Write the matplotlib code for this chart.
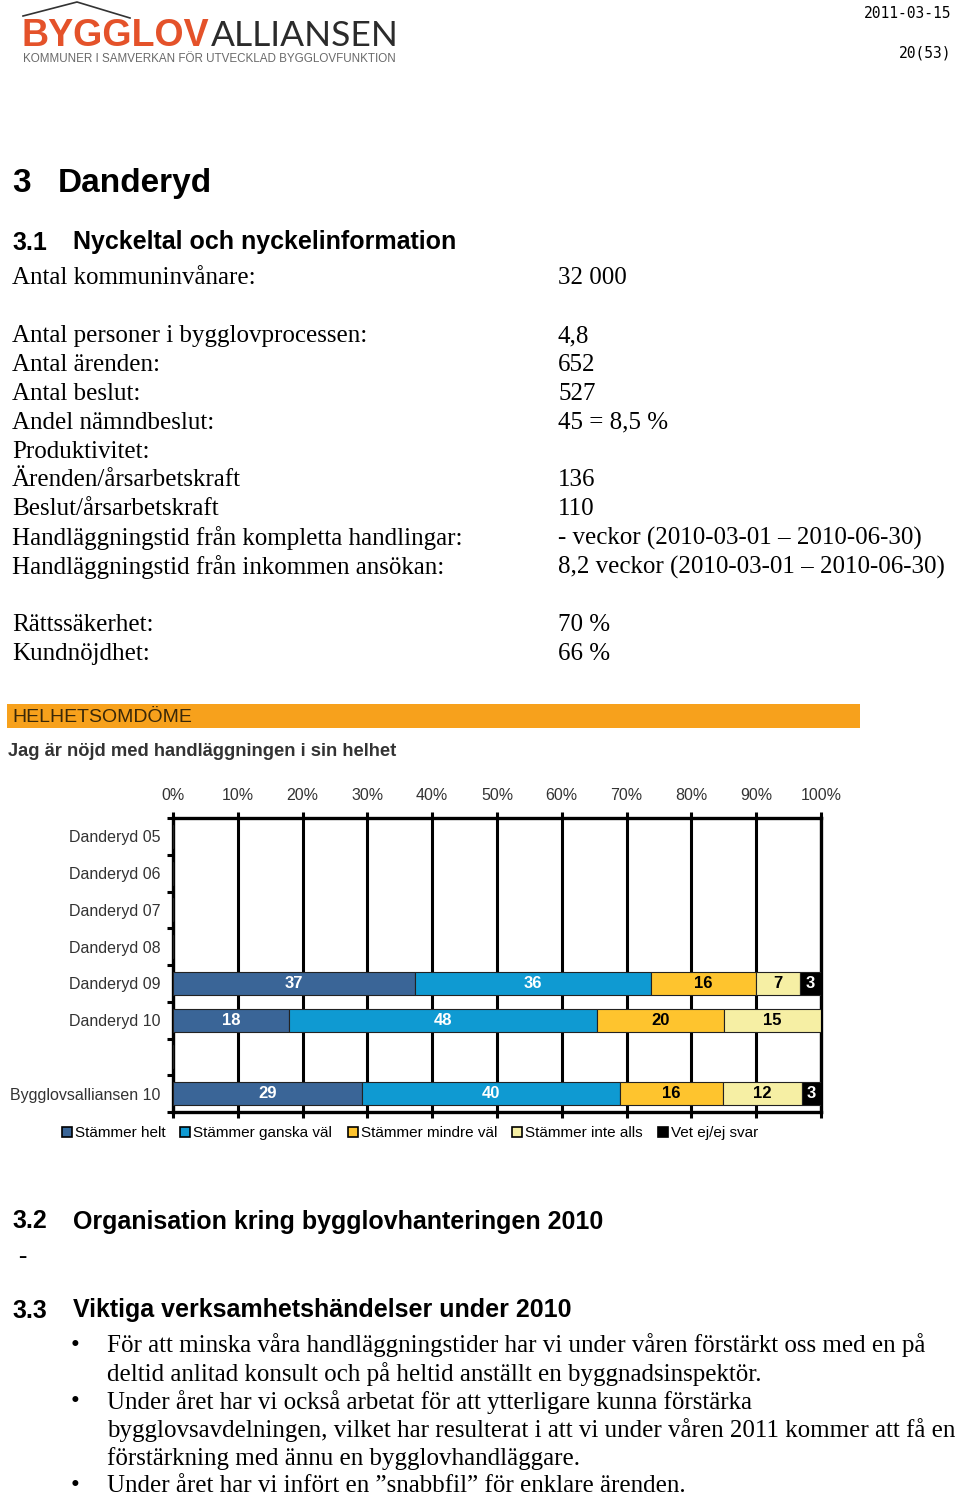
import matplotlib
matplotlib.use("Agg")
import matplotlib.pyplot as plt
import numpy as np
from matplotlib.patches import Patch, Rectangle
from matplotlib.lines import Line2D

# --- chart data (percent shares per answer) ---
categories = ['Danderyd 05', 'Danderyd 06', 'Danderyd 07', 'Danderyd 08',
              'Danderyd 09', 'Danderyd 10', '', 'Bygglovsalliansen 10']
series_names = ['Stämmer helt', 'Stämmer ganska väl', 'Stämmer mindre väl',
                'Stämmer inte alls', 'Vet ej/ej svar']
helt = [0, 0, 0, 0, 37.4, 17.9, 0, 29.2]
ganska = [0, 0, 0, 0, 36.3, 47.6, 0, 39.8]
mindre = [0, 0, 0, 0, 16.2, 19.6, 0, 15.9]
inte_alls = [0, 0, 0, 0, 6.9, 14.9, 0, 12.1]
vet_ej = [0, 0, 0, 0, 3.2, 0, 0, 3.0]
x_ticks = [0, 10, 20, 30, 40, 50, 60, 70, 80, 90, 100]

colors = ['#3A6597', '#0F9AD2', '#FEC42E', '#F6EFA4', '#000000']
label_colors = ['white', 'white', 'black', 'black', 'white']

# --- document text ---
info_labels = ['Antal kommuninvånare:', '', 'Antal personer i bygglovprocessen:',
               'Antal ärenden:', 'Antal beslut:', 'Andel nämndbeslut:', 'Produktivitet:',
               'Ärenden/årsarbetskraft', 'Beslut/årsarbetskraft',
               'Handläggningstid från kompletta handlingar:',
               'Handläggningstid från inkommen ansökan:', '',
               'Rättssäkerhet:', 'Kundnöjdhet:']
info_values = ['32 000', '', '4,8', '652', '527', '45 = 8,5 %', '',
               '136', '110', '- veckor (2010-03-01 – 2010-06-30)',
               '8,2 veckor (2010-03-01 – 2010-06-30)', '', '70 %', '66 %']
bullet_lines = [
    (True, 'För att minska våra handläggningstider har vi under våren förstärkt oss med en på'),
    (False, 'deltid anlitad konsult och på heltid anställt en byggnadsinspektör.'),
    (True, 'Under året har vi också arbetat för att ytterligare kunna förstärka'),
    (False, 'bygglovsavdelningen, vilket har resulterat i att vi under våren 2011 kommer att få en'),
    (False, 'förstärkning med ännu en bygglovhandläggare.'),
    (True, 'Under året har vi infört en ”snabbfil” för enklare ärenden.'),
]

W, H = 960, 1497
fig = plt.figure(figsize=(W / 100, H / 100), dpi=100)
fig.patch.set_facecolor('white')

SANS = ['Liberation Sans', 'DejaVu Sans']
SERIF = ['Liberation Serif', 'DejaVu Serif']
BODY = 18


def txt(x, y, s, **kw):
    kw.setdefault('va', 'center')
    return fig.text(x / W, 1 - (y + 1.5) / H, s, **kw)


# --- logo and page header ---
fig.add_artist(Line2D([23 / W, 77 / W, 130 / W], [1 - 16 / H, 1 - 2 / H, 1 - 18 / H],
                      color='#333333', lw=1.2))
txt(22, 35, 'BYGGLOV', family=SANS, weight='bold', size=27, color='#E4522A')
txt(211, 35, 'ALLIANSEN', family=['Lato', 'DejaVu Sans'], size=25.5,
    color='#2b2b2b')
txt(23, 57, 'KOMMUNER I SAMVERKAN FÖR UTVECKLAD BYGGLOVFUNKTION', family=SANS,
    size=8.4, color='#6a6a6a')
txt(951, 12, '2011-03-15', family=['DejaVu Sans Mono'], size=10.5, ha='right')
txt(951, 52, '20(53)', family=['DejaVu Sans Mono'], size=10.5, ha='right')

# --- headings and key figures ---
txt(12, 182, '3', family=SANS, weight='bold', size=24)
txt(58, 182, 'Danderyd', family=SANS, weight='bold', size=24)
txt(12, 241, '3.1', family=SANS, weight='bold', size=18)
txt(73, 241, 'Nyckeltal och nyckelinformation', family=SANS, weight='bold', size=18)

for i, (lab, val) in enumerate(zip(info_labels, info_values)):
    y = 277 + 28.85 * i
    txt(12, y, lab, family=SERIF, size=BODY)
    txt(558, y, val, family=SERIF, size=BODY)

# --- chart header ---
fig.add_artist(Rectangle((7 / W, 1 - 728 / H), 853 / W, 24 / H,
                         transform=fig.transFigure, color='#F7A11C', lw=0))
txt(12, 716, 'HELHETSOMDÖME', family=['Liberation Sans Narrow', 'Liberation Sans'],
    size=14, color='#3a2808')
txt(8, 750, 'Jag är nöjd med handläggningen i sin helhet', family=SANS,
    weight='bold', size=13.2, color='#333333')

# --- chart ---
ax = fig.add_axes([173 / W, 1 - 1112 / H, 648 / W, 294 / H])
ypos = np.arange(len(categories)) + 0.5
series = [helt, ganska, mindre, inte_alls, vet_ej]
left = np.zeros(len(categories))
for vals, col, lcol in zip(series, colors, label_colors):
    vals = np.array(vals, dtype=float)
    bars = ax.barh(ypos, vals, left=left, height=0.63, color=col,
                   edgecolor='#222222', linewidth=0.8, zorder=3)
    for b, v in zip(bars, vals):
        if v > 0:
            ax.text(b.get_x() + b.get_width() / 2, b.get_y() + b.get_height() / 2,
                    f'{v:.0f}', ha='center', va='center', color=lcol,
                    fontsize=12, weight='bold', family=SANS, zorder=4)
    left += vals

ax.set_xlim(0, 100)
ax.set_ylim(len(categories), 0)
ax.set_xticks(x_ticks)
ax.set_xticklabels([f'{t}%' for t in x_ticks])
ax.xaxis.tick_top()
ax.grid(axis='x', color='black', lw=2.2, zorder=1)
ax.set_yticks(ypos)
ax.set_yticklabels(categories)
ax.set_yticks(np.arange(len(categories) + 1), minor=True)
ax.tick_params(axis='y', which='major', length=0, pad=9, labelsize=11.5,
               labelcolor='#333333')
ax.tick_params(axis='y', which='minor', length=4, width=2.2, color='black')
ax.tick_params(axis='x', which='major', length=4, width=2.2, pad=7,
               labelsize=11.5, labelcolor='#333333', top=True, bottom=True)
for lab in ax.get_xticklabels() + ax.get_yticklabels():
    lab.set_family(SANS)
for side in ['top', 'left', 'bottom', 'right']:
    ax.spines[side].set_linewidth(2.4)
    ax.spines[side].set_color('black')

handles = [Patch(facecolor=c, edgecolor='black', lw=1.2) for c in colors]
fig.legend(handles, series_names, loc='center', ncol=5, frameon=False,
           bbox_to_anchor=(410 / W, 1 - 1133 / H),
           handlelength=0.65, handleheight=0.65, handletextpad=0.2,
           columnspacing=1.0, prop={'family': SANS, 'size': 11})

# --- lower sections ---
txt(12, 1220, '3.2', family=SANS, weight='bold', size=18)
txt(73, 1220, 'Organisation kring bygglovhanteringen 2010', family=SANS,
    weight='bold', size=18)
txt(18, 1256, '-', family=SERIF, size=BODY)
txt(12, 1309, '3.3', family=SANS, weight='bold', size=18)
txt(73, 1309, 'Viktiga verksamhetshändelser under 2010', family=SANS,
    weight='bold', size=18)
for i, (is_bullet, line) in enumerate(bullet_lines):
    y = 1344 + 28.2 * i
    if is_bullet:
        txt(71, y, '•', family=SERIF, size=BODY)
    txt(107, y, line, family=SERIF, size=BODY)

fig.savefig('out.png', dpi=100, facecolor='white')
